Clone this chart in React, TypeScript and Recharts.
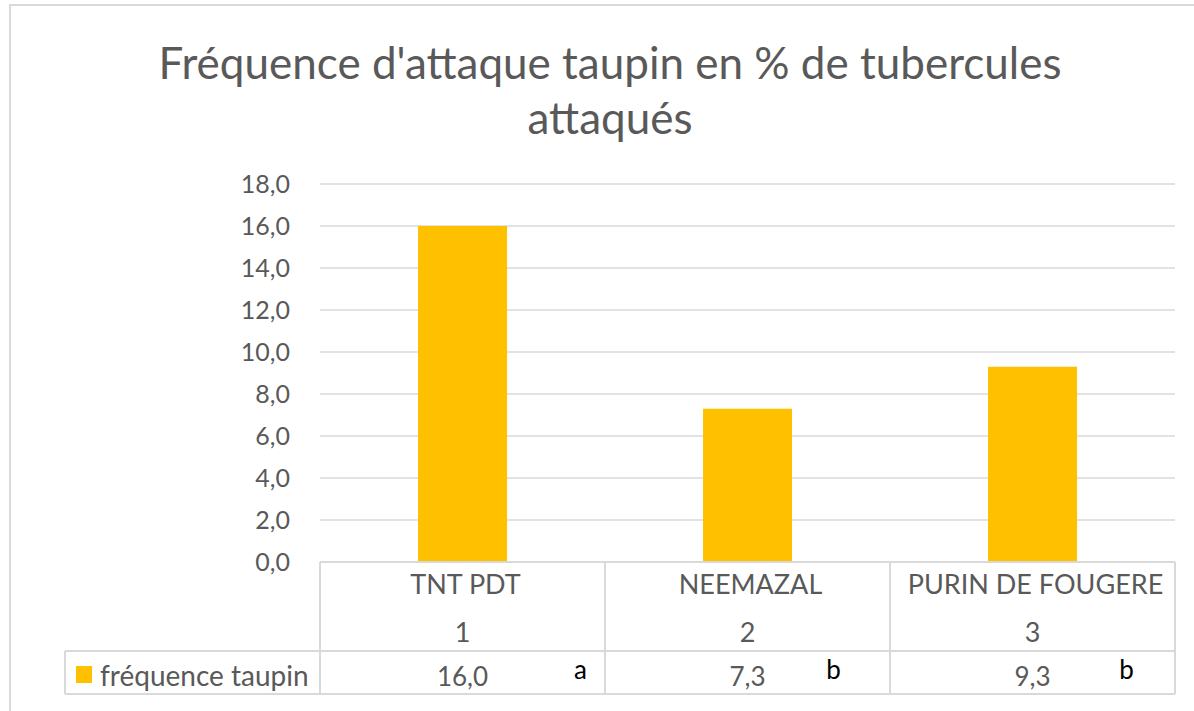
import React from "react"
import { BarChart, Bar, XAxis, YAxis, CartesianGrid } from "recharts"

const categories = ["TNT PDT", "NEEMAZAL", "PURIN DE FOUGERE"]
const indices = ["1", "2", "3"]
const frequence = [16.0, 7.3, 9.3]
const letters = ["a", "b", "b"]
const yTicks = [0, 2, 4, 6, 8, 10, 12, 14, 16, 18]
const seriesName = "fréquence taupin"

const data = categories.map((c, i) => ({ name: c, idx: indices[i], value: frequence[i], letter: letters[i] }))

const GRAY = "#595959"
const LINE = "#d9d9d9"
const BAR = "#FFC000"
const FONT = "Lato, 'Open Sans', sans-serif"

const W = 1194
const H = 711
const margin = { top: 184, right: 19, bottom: 0, left: 260 }
const yAxisWidth = 60
const xAxisHeight = 149
const band = (W - margin.left - margin.right - yAxisWidth) / categories.length
const letterDx = [118, 86, 94]

const fmt = (v: number) => v.toFixed(1).replace(".", ",")

function TableTick(props: any) {
  const { x, y, payload } = props
  const i = payload.index
  const d = data[i]
  const x0 = x - band / 2
  const x1 = x + band / 2
  return (
    <g fontFamily={FONT}>
      <line x1={x0} x2={x0} y1={y} y2={y + 132} stroke={LINE} strokeWidth={2} />
      <line x1={x1} x2={x1} y1={y} y2={y + 132} stroke={LINE} strokeWidth={2} />
      <line x1={x0} x2={x1} y1={y + 89} y2={y + 89} stroke={LINE} strokeWidth={2} />
      <line x1={x0} x2={x1} y1={y + 132} y2={y + 132} stroke={LINE} strokeWidth={2} />
      <text x={x + 3} y={y + 32} textAnchor="middle" fontSize={27} fill={GRAY}>{d.name}</text>
      <text x={x} y={y + 80} textAnchor="middle" fontSize={27} fill={GRAY}>{d.idx}</text>
      <text x={x} y={y + 124} textAnchor="middle" fontSize={26} fill={GRAY}>{fmt(d.value)}</text>
      <text x={x + letterDx[i]} y={y + 117} textAnchor="middle" fontSize={26} fill="#000">{d.letter}</text>
      {i === 0 && (
        <g>
          <line x1={65} x2={x0} y1={y + 89} y2={y + 89} stroke={LINE} strokeWidth={2} />
          <line x1={65} x2={x0} y1={y + 132} y2={y + 132} stroke={LINE} strokeWidth={2} />
          <line x1={65} x2={65} y1={y + 89} y2={y + 132} stroke={LINE} strokeWidth={2} />
          <rect x={76} y={y + 104} width={16} height={17} fill={BAR} />
          <text x={100} y={y + 124} fontSize={28} fill={GRAY}>{seriesName}</text>
        </g>
      )}
    </g>
  )
}

export default function App() {
  return (
    <div style={{ position: "absolute", left: 0, top: 0, width: W, height: H, overflow: "hidden", background: "#fff", fontFamily: FONT }}>
      <div style={{ position: "absolute", left: 9, top: 4, width: 1400, height: 900, borderTop: `2px solid ${LINE}`, borderLeft: `2px solid ${LINE}` }} />
      <div
        style={{
          position: "absolute",
          left: 610,
          top: 35,
          transform: "translateX(-50%)",
          whiteSpace: "nowrap",
          textAlign: "center",
          fontSize: 44,
          lineHeight: "55px",
          color: GRAY,
        }}
      >
        Fréquence d'attaque taupin en % de tubercules
        <br />
        attaqués
      </div>
      <div style={{ position: "absolute", left: 0, top: 0 }}>
        <BarChart width={W} height={H} data={data} margin={margin} barCategoryGap="34.4%">
          <CartesianGrid vertical={false} stroke={LINE} strokeWidth={1.5} />
          <YAxis
            width={yAxisWidth}
            domain={[0, 18]}
            ticks={yTicks}
            axisLine={false}
            tickLine={false}
            tickSize={0}
            tickMargin={30}
            tickFormatter={(v) => fmt(Number(v))}
            tick={{ fill: GRAY, fontSize: 25, fontFamily: FONT }}
          />
          <XAxis
            dataKey="name"
            height={xAxisHeight}
            interval={0}
            axisLine={{ stroke: LINE, strokeWidth: 2 }}
            tickLine={false}
            tickSize={0}
            tickMargin={0}
            tick={<TableTick />}
          />
          <Bar dataKey="value" fill={BAR} isAnimationActive={false} />
        </BarChart>
      </div>
    </div>
  )
}
